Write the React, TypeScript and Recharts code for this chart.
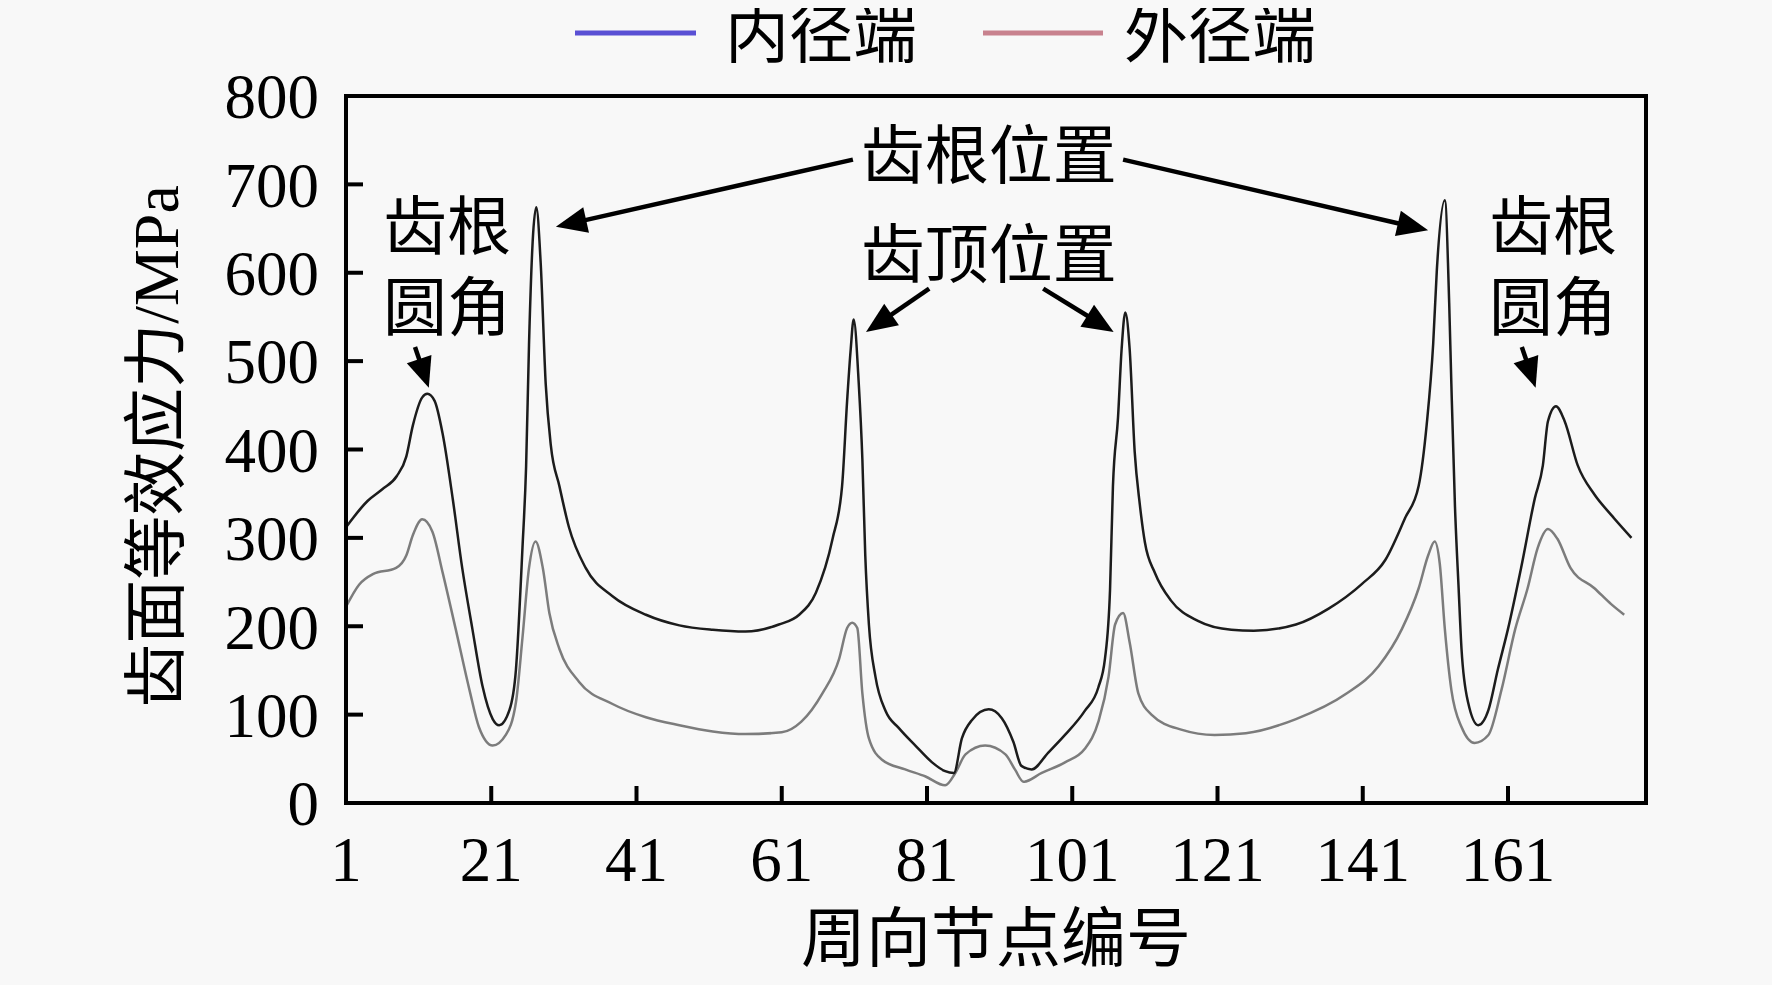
import React from 'react';
import {
  LineChart,
  Line,
  XAxis,
  YAxis,
  ReferenceArea,
  ReferenceLine,
  ReferenceDot,
  Legend,
  Label,
} from 'recharts';

const FONT = "'Liberation Serif', 'Noto Sans CJK SC', serif";

const seriesNames = ['内径端', '外径端'];
const legendColors = ['#5a50d4', '#c8828e'];
const lineColors = ['#1c1c1c', '#7c7c7c'];

// 内径端 (inner end) — node index and equivalent stress (MPa)
const innerNodes = [
  1, 4, 6, 8, 9.3, 10.2, 11.5, 12.2, 13.2, 14.3, 15.7, 17, 18.4, 19.8, 21.2, 22.1, 23.5, 24.4,
  25.3, 25.8, 26.2, 26.7, 27.2, 27.8, 28.5, 29.2, 30.4, 31.7, 34, 37.7, 42.3, 46.9, 51.5, 56,
  60.6, 63.4, 65.7, 68, 69.3, 70, 70.5, 70.9, 71.6, 72.1, 72.5, 73, 73.9, 75.3, 77.1, 79.4,
  81.7, 83.5, 84.7, 85.8, 87.2, 89.5, 91.3, 92.9, 94, 95.4, 97.7, 100, 102.7, 104.6, 105.5,
  106.2, 106.6, 107.3, 107.8, 108.3, 108.9, 109.6, 110.3, 111, 112.4, 114.6, 118.3, 122.9,
  126, 131.8, 136.3, 140.9, 144.1, 146.8, 148.7, 149.8, 150.7, 151.2, 152.3, 152.9, 153.2,
  153.7, 154.2, 154.6, 155.5, 156.9, 158.3, 159.6, 161, 162.8, 164.7, 165.8, 166.5, 167.6,
  168.8, 170.6, 172.9, 175.2, 178,
];
const innerStress = [
  312, 342, 355, 370, 392, 427, 459, 463, 455, 418, 344, 266, 197, 132, 95, 88, 105, 151,
  289, 381, 519, 635, 674, 612, 474, 405, 358, 312, 266, 234, 213, 201, 196, 194,
  202, 213, 238, 299, 358, 455, 514, 547, 475, 389, 280, 202, 143, 104, 85, 65,
  46, 36, 34, 73, 94, 106, 96, 69, 42, 38, 57, 77, 104, 131, 163,
  241, 358, 436, 514, 555, 514, 397, 338, 295, 260, 229, 206, 196,
  195, 202, 220, 248, 275, 322, 359, 428, 520, 603, 682, 566, 474,
  335, 243, 174, 114, 88, 105, 151, 197, 266, 345, 382, 432, 449,
  432, 382, 349, 326, 300,
];

// 外径端 (outer end)
const outerNodes = [
  1, 2.8, 4.7, 7.9, 9.3, 10.2, 11.5, 12.9, 14.3, 16.1, 18, 19.3, 21.2, 23, 24.4, 25.3, 26.2,
  27.1, 28.1, 29, 30.4, 33.1, 37.7, 42.3, 46.9, 51.5, 56, 61, 63.7, 66.6, 68.9, 70, 70.7,
  71.4, 72.1, 73, 74.8, 78, 80.8, 83.5, 84.9, 86.3, 89, 91.8, 93.1, 94.3, 96.8, 100, 102.7,
  104.6, 106, 106.9, 108, 108.9, 110.1, 111.9, 116, 120.6, 124.9, 131.8, 138.6, 143.2, 146.4,
  148.7, 150, 150.9, 151.6, 152.3, 153.2, 154.6, 156.4, 158.3, 160.1, 162, 163.7, 165.1,
  166.5, 167.8, 169.6, 172.9, 175.2, 177,
];
const outerStress = [
  222, 247, 259, 266, 280, 303, 321, 307, 261, 197, 128, 86, 65, 77, 114, 187, 266,
  296, 266, 215, 174, 137, 112, 97, 88, 81, 78, 80, 92, 124, 163, 198, 204,
  198, 124, 73, 49, 38, 30, 20, 34, 55, 65, 55, 38, 24, 34, 46, 61,
  92, 143, 202, 215, 182, 124, 100, 83, 77, 79, 95, 123, 155, 197,
  243, 280, 296, 271, 197, 128, 86, 68, 77, 128, 197, 243, 289,
  310, 299, 266, 243, 225, 213,
];

const xTicks = [1, 21, 41, 61, 81, 101, 121, 141, 161];
const yTicks = [0, 100, 200, 300, 400, 500, 600, 700, 800];
const xDomain = [1, 180];
const yDomain = [0, 800];

const xTitle = '周向节点编号';
const yTitle = '齿面等效应力/MPa';

// annotation texts, anchored in data units
const noteTexts = ['齿根位置', '齿顶位置', '齿根', '圆角', '齿根', '圆角'];
const noteNodes = [89.5, 89.5, 14.9, 14.9, 167.2, 167.2];
const noteStress = [732, 620, 651, 560, 651, 560];

// annotation arrows (from -> to), in data units
const arrowFromNodes = [70.8, 108.0, 81.3, 97.0, 10.5, 162.9];
const arrowFromStress = [728, 728, 582, 582, 516, 516];
const arrowToNodes = [29.9, 150.0, 72.6, 106.7, 12.4, 164.8];
const arrowToStress = [652, 648, 533, 533, 470, 470];

const innerData = innerNodes.map((n, i) => ({ node: n, stress: innerStress[i] }));
const outerData = outerNodes.map((n, i) => ({ node: n, stress: outerStress[i] }));

const ArrowShape = (props: any) => {
  const { x1, y1, x2, y2 } = props;
  if ([x1, y1, x2, y2].some((v) => typeof v !== 'number' || isNaN(v))) return null;
  const dx = x2 - x1;
  const dy = y2 - y1;
  const len = Math.hypot(dx, dy) || 1;
  const ux = dx / len;
  const uy = dy / len;
  const headLen = Math.min(31, len * 0.7);
  const headHalf = 13;
  const bx = x2 - ux * headLen;
  const by = y2 - uy * headLen;
  const px = -uy;
  const py = ux;
  return (
    <g>
      <line x1={x1} y1={y1} x2={bx + ux * 2} y2={by + uy * 2} stroke="#000" strokeWidth={4.5} />
      <polygon
        points={`${x2},${y2} ${bx + px * headHalf},${by + py * headHalf} ${bx - px * headHalf},${by - py * headHalf}`}
        fill="#000"
      />
    </g>
  );
};

const makeTextShape = (text: string) => (props: any) => {
  const { cx, cy } = props;
  return (
    <text
      x={cx}
      y={cy}
      textAnchor="middle"
      dominantBaseline="central"
      fontSize={64}
      fontFamily={FONT}
      fill="#000"
    >
      {text}
    </text>
  );
};

const renderLegend = () => (
  <svg width={1756} height={78} style={{ display: 'block', overflow: 'visible' }}>
    <line x1={567} y1={33} x2={688} y2={33} stroke={legendColors[0]} strokeWidth={5} />
    <text x={717} y={35} dominantBaseline="central" fontSize={64} fontFamily={FONT} fill="#000">
      {seriesNames[0]}
    </text>
    <line x1={975} y1={33} x2={1095} y2={33} stroke={legendColors[1]} strokeWidth={5} />
    <text x={1116} y={35} dominantBaseline="central" fontSize={64} fontFamily={FONT} fill="#000">
      {seriesNames[1]}
    </text>
  </svg>
);

const renderYTitle = (props: any) => {
  const vb = props.viewBox || { x: 0, y: 0, width: 0, height: 0 };
  const cx = vb.x + 148;
  const cy = vb.y + vb.height / 2 - 3;
  return (
    <text
      x={cx}
      y={cy}
      transform={`rotate(-90 ${cx} ${cy})`}
      textAnchor="middle"
      dominantBaseline="central"
      fontSize={64}
      fontFamily={FONT}
      fill="#000"
    >
      {yTitle}
    </text>
  );
};

const renderXTitle = (props: any) => {
  const vb = props.viewBox || { x: 0, y: 0, width: 0, height: 0 };
  const cx = vb.x + vb.width / 2;
  const cy = vb.y + 136;
  return (
    <text
      x={cx}
      y={cy}
      textAnchor="middle"
      dominantBaseline="central"
      fontSize={65}
      fontFamily={FONT}
      fill="#000"
    >
      {xTitle}
    </text>
  );
};

export default function App() {
  return (
    <div>
      <div style={{ position: 'fixed', inset: 0, background: '#f8f8f8', zIndex: -1 }} />
      <LineChart width={1756} height={969} margin={{ top: 88, right: 118, bottom: 0, left: 0 }}>
        <XAxis
          dataKey="node"
          type="number"
          domain={xDomain}
          ticks={xTicks}
          interval={0}
          allowDataOverflow
          height={174}
          axisLine={{ stroke: '#000', strokeWidth: 4 }}
          tickLine={{ stroke: '#000', strokeWidth: 4 }}
          tickSize={-17}
          tickMargin={50}
          tick={{ fontSize: 63, fill: '#000', fontFamily: FONT }}
        >
          <Label content={renderXTitle} />
        </XAxis>
        <YAxis
          type="number"
          domain={yDomain}
          ticks={yTicks}
          interval={0}
          allowDataOverflow
          width={338}
          axisLine={{ stroke: '#000', strokeWidth: 4 }}
          tickLine={{ stroke: '#000', strokeWidth: 4 }}
          tickSize={-17}
          tickMargin={44}
          tick={{ fontSize: 63, fill: '#000', fontFamily: FONT }}
        >
          <Label content={renderYTitle} />
        </YAxis>
        <Legend
          layout="horizontal"
          verticalAlign="middle"
          align="center"
          wrapperStyle={{ top: -8, left: 0, width: 1756, height: 78 }}
          content={renderLegend}
        />
        <ReferenceArea
          x1={xDomain[0]}
          x2={xDomain[1]}
          y1={yDomain[0]}
          y2={yDomain[1]}
          fill="none"
          fillOpacity={0}
          stroke="#000"
          strokeWidth={4}
          ifOverflow="visible"
        />
        <Line
          data={outerData}
          dataKey="stress"
          name={seriesNames[1]}
          type="monotone"
          stroke={lineColors[1]}
          strokeWidth={2.5}
          dot={false}
          activeDot={false}
          isAnimationActive={false}
        />
        <Line
          data={innerData}
          dataKey="stress"
          name={seriesNames[0]}
          type="monotone"
          stroke={lineColors[0]}
          strokeWidth={2.5}
          dot={false}
          activeDot={false}
          isAnimationActive={false}
        />
        {arrowFromNodes.map((n, i) => (
          <ReferenceLine
            key={`arrow-${i}`}
            segment={[
              { x: n, y: arrowFromStress[i] },
              { x: arrowToNodes[i], y: arrowToStress[i] },
            ]}
            ifOverflow="visible"
            shape={ArrowShape}
          />
        ))}
        {noteTexts.map((t, i) => (
          <ReferenceDot
            key={`note-${i}`}
            x={noteNodes[i]}
            y={noteStress[i]}
            r={1}
            ifOverflow="visible"
            shape={makeTextShape(t)}
          />
        ))}
      </LineChart>
    </div>
  );
}
